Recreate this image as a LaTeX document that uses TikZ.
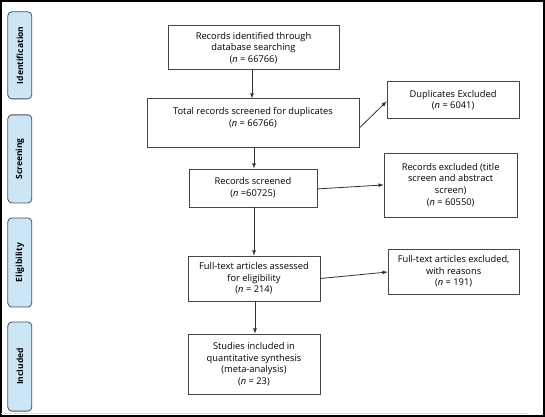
\documentclass[tikz,border=0pt]{standalone}
\usepackage{fontspec}
\setmainfont{Open Sans}
\definecolor{stagefill}{RGB}{204,230,246}
\definecolor{stageline}{RGB}{70,80,95}
\definecolor{boxline}{RGB}{70,70,70}
\tikzset{>=latex}
\tikzset{
  flowbox/.style = {draw=boxline,thick,align=center,inner sep=2pt,
    font=\fontsize{9.3}{11.6}\selectfont},
  stage/.style = {draw=stageline,fill=stagefill,thick,rounded corners=4pt,
    rotate=90,minimum height=24pt,inner sep=0pt,
    font=\bfseries\fontsize{8.5}{10}\selectfont},
  flow/.style = {->,thick,draw=black!80}
}

\begin{document}
\begin{tikzpicture}[x=1pt,y=-1pt]
  \draw[line width=1.6pt] (1,1) rectangle (544,416);
  \draw[black!12,line width=1pt] (1,413) -- (528,413);
  % stages
  \node[stage,minimum width=87pt] (ident) at (20,55.5) {Identification};
  \node[stage,minimum width=88pt] (screen) at (20,159) {Screening};
  \node[stage,minimum width=89pt] (elig) at (20,262.5) {Eligibility};
  \node[stage,minimum width=89pt] (incl) at (20,366.5) {Included};
  % main column
  \node[flowbox,minimum width=171pt,minimum height=44pt] (found) at (253.5,48)
    {Records identified through\\database searching\\(\textit{n} = 66766)};
  \node[flowbox,minimum width=212pt,minimum height=48pt] (total) at (253,123)
    {Total records screened for duplicates\\(\textit{n} = 66766)\\\mbox{}};
  \node[flowbox,minimum width=128pt,minimum height=38pt] (screened) at (253,188)
    {Records screened\\(\textit{n} =60725)};
  \node[flowbox,minimum width=132pt,minimum height=45pt] (fulltext) at (254,278.5)
    {Full-text articles assessed\\for eligibility\\(\textit{n} = 214)};
  \node[flowbox,minimum width=132pt,minimum height=60pt] (studies) at (254,364)
    {Studies included in\\quantitative synthesis\\(meta-analysis)\\(\textit{n} = 23)};
  % exclusions
  \node[flowbox,minimum width=132pt,minimum height=37pt] (dups) at (453,100.5)
    {Duplicates Excluded\\(\textit{n} = 6041)};
  \node[flowbox,minimum width=133pt,minimum height=64pt] (recexcl) at (450.5,185)
    {Records excluded (title\\screen and abstract\\screen)\\(\textit{n} = 60550)};
  \node[flowbox,minimum width=131pt,minimum height=45pt] (ftexcl) at (453.5,271.5)
    {Full-text articles excluded,\\with reasons\\(\textit{n} = 191)};
  % arrows
  \draw[flow] ([xshift=-1.5pt]found.south) -- ([xshift=-1pt]total.north);
  \draw[flow] ([xshift=1pt]total.south) -- ([xshift=1pt]screened.north);
  \draw[flow] ([xshift=1pt]screened.south) -- ([xshift=1pt]screened.south |- fulltext.north);
  \draw[flow] ([xshift=1pt]fulltext.south) -- ([xshift=1pt]studies.north);
  \draw[flow] ([yshift=-5pt]total.east) -- ([yshift=-1pt]dups.west);
  \draw[flow] ([yshift=-1pt]screened.east) -- (recexcl.west);
  \draw[flow] (fulltext.east) -- ([yshift=-0.5pt]ftexcl.west);
\end{tikzpicture}
\end{document}
